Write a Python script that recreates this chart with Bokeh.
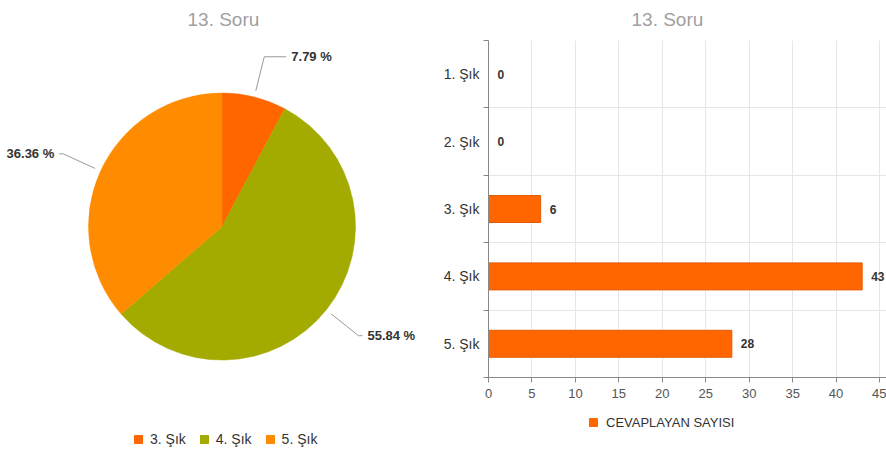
import math
from bokeh.plotting import figure
from bokeh.layouts import row, column
from bokeh.models import (Range1d, FixedTicker, Legend, LegendItem, ColumnDataSource, Title)
from bokeh.core.properties import value
from bokeh.embed import file_html
from bokeh.resources import INLINE

# ---------------- data ----------------
title_text = "13. Soru"
categories = ["1. Şık", "2. Şık", "3. Şık", "4. Şık", "5. Şık"]
counts = [0, 0, 6, 43, 28]
series_name = "CEVAPLAYAN SAYISI"
x_ticks = [0, 5, 10, 15, 20, 25, 30, 35, 40, 45]
pie_colors = {"3. Şık": "#ff6600", "4. Şık": "#a3aa00", "5. Şık": "#ff8c00"}
bar_color = "#ff6600"

FONT = "Liberation Sans"
H = 405          # height of the two chart figures
BOTTOM = 28      # below frame (x axis)
NAN = float("nan")


def make_title(offset):
    return Title(text=title_text, align="left", offset=offset, text_font=FONT,
                 text_font_size="19px", text_font_style="normal", text_color="#a0a0a0",
                 standoff=17, vertical_align="top")


# ---------------- pie (left) ----------------
LW = 440
left = figure(width=LW, height=H, x_range=Range1d(0, LW), y_range=Range1d(377, 41),
              output_backend="svg", toolbar_location=None,
              min_border_left=0, min_border_right=0, min_border_top=0,
              min_border_bottom=BOTTOM)
left.axis.visible = False
left.grid.visible = False
left.outline_line_color = None
left.add_layout(make_title(187), "above")

cx, cy, R = 221.5, 226.5, 133.5       # page-like coordinates (y downwards)
pie_cats = [c for c, v in zip(categories, counts) if v > 0]
pie_vals = [v for v in counts if v > 0]
total = sum(pie_vals)
starts, ends, mids = [], [], []
acc = 0.0
for v in pie_vals:
    f0 = acc / total
    acc += v
    f1 = acc / total
    starts.append(math.pi / 2 - 2 * math.pi * f0)
    ends.append(math.pi / 2 - 2 * math.pi * f1)
    mids.append(2 * math.pi * (f0 + f1) / 2)  # clockwise from top

src = ColumnDataSource(dict(start=starts, end=ends, color=[pie_colors[c] for c in pie_cats],
                            label=pie_cats))
left.wedge(x=cx, y=cy, radius=R, start_angle="start", end_angle="end", direction="clock",
           fill_color="color", line_color="color", line_width=0.5, source=src)

tails = [22, 4, 4]
for i, v in enumerate(pie_vals):
    th = mids[i]
    s, c = math.sin(th), math.cos(th)
    x0, y0 = cx + (R + 6) * s, cy - (R + 6) * c
    xk, yk = cx + (R + 41) * s, cy - (R + 41) * c
    d = 1 if s >= 0 else -1
    xt = xk + d * tails[i]
    left.line([x0, xk, xt], [y0, yk, yk], line_color="#999999", line_width=1)
    left.text(x=[xt + d * 5], y=[yk], text=["%.2f %%" % (100.0 * v / total)],
              text_font=value(FONT), text_font_size="13px", text_font_style="bold",
              text_color="#333333", text_align="left" if d > 0 else "right",
              text_baseline="middle")

# ---------------- bar (right) ----------------
RW = 446
n = len(categories)
pos = [i + 0.5 for i in range(n)]
right = figure(width=RW, height=H, x_range=Range1d(0, 45.8), y_range=Range1d(n, 0),
               output_backend="svg", toolbar_location=None,
               min_border_left=47, min_border_right=0, min_border_top=0,
               min_border_bottom=BOTTOM)
right.add_layout(make_title(143), "above")

bsrc = ColumnDataSource(dict(y=pos, v=counts, lbl=[str(v) for v in counts]))
right.hbar(y="y", left=0, right="v", height=0.4, fill_color=bar_color,
           line_color="#e35a00", line_width=1, source=bsrc)
right.text(x="v", y="y", text="lbl", x_offset=9, text_font=value(FONT), text_font_size="12px",
           text_font_style="bold", text_color="#333333", text_align="left",
           text_baseline="middle", source=bsrc)

yax = right.yaxis[0]
yax.ticker = FixedTicker(ticks=pos, minor_ticks=list(range(n + 1)))
yax.major_label_overrides = {p: c for p, c in zip(pos, categories)}
yax.major_tick_out = 0
yax.major_tick_in = 0
yax.minor_tick_out = 5
yax.minor_tick_in = 0
yax.major_label_standoff = 4
yax.axis_line_color = "#888888"
yax.minor_tick_line_color = "#888888"
yax.major_label_text_font = FONT
yax.major_label_text_font_size = "14px"
yax.major_label_text_color = "#333333"

xax = right.xaxis[0]
xax.ticker = FixedTicker(ticks=x_ticks)
xax.major_tick_out = 5
xax.major_tick_in = 0
xax.minor_tick_line_color = None
xax.major_label_standoff = 6
xax.axis_line_color = "#888888"
xax.major_tick_line_color = "#888888"
xax.major_label_text_font = FONT
xax.major_label_text_font_size = "13px"
xax.major_label_text_color = "#555555"

right.xgrid[0].ticker = FixedTicker(ticks=x_ticks)
right.ygrid[0].ticker = FixedTicker(ticks=list(range(n + 1)))
right.grid.grid_line_color = "#e6e6e6"
right.outline_line_color = None

# ---------------- legend strip (bottom) ----------------
SW, SH = 886, 45
strip = figure(width=SW, height=SH, x_range=Range1d(0, SW), y_range=Range1d(0, SH),
               output_backend="svg", toolbar_location=None, min_border=0)
strip.axis.visible = False
strip.grid.visible = False
strip.outline_line_color = None

pie_items = []
for c in pie_cats:
    r = strip.quad(left=[NAN], right=[NAN], top=[NAN], bottom=[NAN],
                   fill_color=pie_colors[c], line_color=pie_colors[c])
    pie_items.append(LegendItem(label=c, renderers=[r], index=0))
bar_r = strip.quad(left=[NAN], right=[NAN], top=[NAN], bottom=[NAN],
                   fill_color=bar_color, line_color=bar_color)

common = dict(padding=0, margin=0, glyph_width=10, glyph_height=10, label_height=16,
              label_text_font=FONT, label_text_color="#333333", border_line_color=None,
              background_fill_alpha=0)
leg_pie = Legend(items=pie_items, orientation="horizontal", location=(133, 3),
                 label_standoff=7, spacing=13, label_text_font_size="14px", **common)
leg_bar = Legend(items=[LegendItem(label=series_name, renderers=[bar_r], index=0)],
                 location=(588, 20), label_standoff=8, label_text_font_size="13px", **common)
strip.add_layout(leg_pie)
strip.add_layout(leg_bar)

layout = column(row(left, right), strip)
open("out.html", "w").write(file_html(layout, INLINE))
